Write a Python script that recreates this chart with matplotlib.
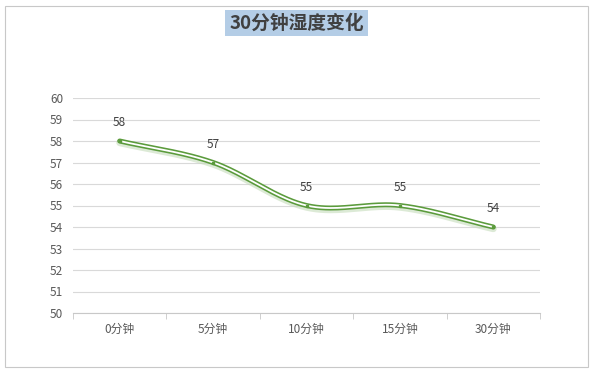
import numpy as np
import matplotlib.pyplot as plt
from matplotlib.patches import Rectangle

plt.rcParams['font.family'] = ['Noto Sans CJK SC', 'DejaVu Sans']

# data
categories = ['0分钟', '5分钟', '10分钟', '15分钟', '30分钟']
humidity = [58, 57, 55, 55, 54]


def catmull_rom(xs, ys, n=40):
    # smooth curve through the points (like a spreadsheet "smoothed line")
    px = np.concatenate([[2*xs[0]-xs[1]], xs, [2*xs[-1]-xs[-2]]])
    py = np.concatenate([[2*ys[0]-ys[1]], ys, [2*ys[-1]-ys[-2]]])
    outx, outy = [], []
    for i in range(1, len(px)-2):
        t = np.linspace(0, 1, n)
        for p, out in ((px, outx), (py, outy)):
            p0, p1, p2, p3 = p[i-1], p[i], p[i+1], p[i+2]
            out.append(0.5*((2*p1) + (-p0+p2)*t + (2*p0-5*p1+4*p2-p3)*t**2
                            + (-p0+3*p1-3*p2+p3)*t**3))
    return np.concatenate(outx), np.concatenate(outy)


x = np.arange(len(categories), dtype=float)
y = np.array(humidity, dtype=float)
sx, sy = catmull_rom(x, y)

fig = plt.figure(figsize=(5.93, 3.73), dpi=100)
fig.patches.append(Rectangle((5/593, 6/373), 583/593, 361/373, transform=fig.transFigure,
                             fill=False, edgecolor='#c8c8c8', lw=0.8))

ax = fig.add_axes([73/593, 1-313/373, 467/593, 215/373])
ax.set_xlim(-0.5, len(categories)-0.5)
ax.set_ylim(50, 60)
ax.set_yticks(range(50, 61))
ax.grid(axis='y', color='#d9d9d9', lw=0.8)
ax.set_axisbelow(True)
for s in ['top', 'right', 'left']:
    ax.spines[s].set_visible(False)
ax.spines['bottom'].set_color('#c8c8c8')
ax.tick_params(axis='y', length=0, labelsize=8.5, labelcolor='#595959', pad=7)
ax.set_xticks(x)
ax.set_xticklabels(categories)
ax.tick_params(axis='x', length=0, labelsize=8.5, labelcolor='#595959', pad=7)
ax.set_xticks(np.arange(-0.5, len(categories)), minor=True)
ax.tick_params(axis='x', which='minor', length=4, color='#c8c8c8', direction='out')

ax.plot(sx, sy-0.08, color='#c6dcbb', lw=5, alpha=0.6, solid_capstyle='round')
ax.plot(sx, sy, color='#5b9b3c', lw=3.6, solid_capstyle='round')
ax.plot(sx, sy, color='white', lw=1.3, solid_capstyle='round')
ax.plot(x, y, 's', color='#5b9b3c', ms=2)

for xi, yi in zip(x, y):
    ax.annotate(str(int(yi)), (xi, yi), xytext=(0, 13), textcoords='offset points',
                ha='center', va='center', fontsize=8.5, color='#404040')

fig.text(0.5, 1-23/373, '30分钟湿度变化', ha='center', va='center', fontsize=13.5,
         fontweight='bold', color='#404040',
         bbox=dict(boxstyle='square,pad=0.2', facecolor='#b4cde6', edgecolor='none'))

fig.savefig('out.png', dpi=100)
